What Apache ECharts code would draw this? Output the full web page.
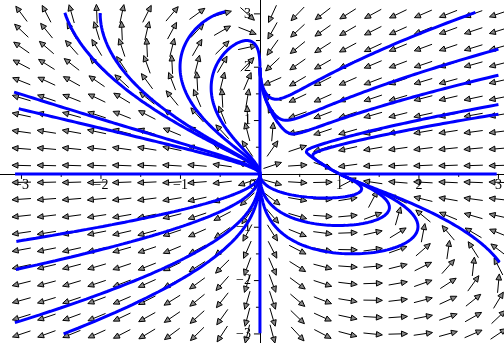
<!DOCTYPE html>
<html>
<head>
<meta charset="utf-8">
<script src="https://cdn.jsdelivr.net/npm/echarts@6/dist/echarts.min.js"></script>
<style>
  html, body { margin: 0; padding: 0; background: #fff; }
  #chart { width: 504px; height: 343px; }
</style>
</head>
<body>
<div id="chart"></div>
<script>
// Competing species system:
//   x' = x (ax - bx*x - cx*y)
//   y' = y (ay - by*x - cy*y)
const rateX = [1, 1, 1];          // ax, bx, cx
const rateY = [0.5, 0.75, 0.25];  // ay, by, cy

// window of the direction field
const fieldRange = [-3, 3];
const fieldCount = 20;

// box in which the solution curves are traced
const curveBoxX = [-3.1, 3.02];
const curveBoxY = [-3.0, 3.04];

// visible axis extents
const xExtent = [-3.27, 3.07];
const yExtent = [-3.17, 3.26];

// axis ticks and labels
const tickValues = [-3, -2.5, -2, -1.5, -1, -0.5, 0.5, 1, 1.5, 2, 2.5, 3];
const xLabelValues = [-3, -2, -1, 1, 2, 3];
const yLabelValues = [-3, -2, -1, 1, 2, 3];

// initial points of the drawn solution curves
const seedX = [-2.45, -2.01, -3.0, -3.0, -0.53, -0.61,
               2.66, 3.0, 3.0, 3.0, 3.0,
               -3.0, -3.0, -3.0, -2.47,
               0.88, 1.13, 1.39, 3.0,
               -1.0, 0.0, 0.0, 2.0];
const seedY = [3.0, 3.0, 1.49, 1.21, 3.0, 1.72,
               3.0, 2.34, 1.85, 1.30, 1.12,
               -1.25, -1.77, -2.75, -3.0,
               -0.45, -0.96, -1.48, -1.63,
               0.0, 1.0, -1.0, 0.0];

function field(x, y) {
  return [
    x * (rateX[0] - rateX[1] * x - rateX[2] * y),
    y * (rateY[0] - rateY[1] * x - rateY[2] * y)
  ];
}

function inside(p) {
  return p[0] >= curveBoxX[0] && p[0] <= curveBoxX[1] &&
         p[1] >= curveBoxY[0] && p[1] <= curveBoxY[1];
}

// fixed-step RK4 from (x0, y0), forwards (dir = 1) or backwards (dir = -1)
function solve(x0, y0, dir) {
  const h = 0.004 * dir;
  const pts = [];
  let p = [x0, y0];
  for (let i = 0; i < 12000; i++) {
    const k1 = field(p[0], p[1]);
    const k2 = field(p[0] + h * k1[0] / 2, p[1] + h * k1[1] / 2);
    const k3 = field(p[0] + h * k2[0] / 2, p[1] + h * k2[1] / 2);
    const k4 = field(p[0] + h * k3[0], p[1] + h * k3[1]);
    const q = [p[0] + h * (k1[0] + 2 * k2[0] + 2 * k3[0] + k4[0]) / 6,
               p[1] + h * (k1[1] + 2 * k2[1] + 2 * k3[1] + k4[1]) / 6];
    if (!inside(q)) break;
    const moved = Math.hypot(q[0] - p[0], q[1] - p[1]);
    p = q;
    if (i % 2 === 0) pts.push(p);
    if (moved < 1e-7) break;
  }
  return pts;
}

function curve(x0, y0) {
  const back = solve(x0, y0, -1).reverse();
  const fwd = solve(x0, y0, 1);
  return back.concat([[x0, y0]], fwd);
}

const curveSeries = seedX.map((sx, i) => ({
  type: 'line',
  data: curve(sx, seedY[i]),
  showSymbol: false,
  symbol: 'none',
  clip: true,
  silent: true,
  z: 4,
  lineStyle: { color: '#0000ff', width: 3 }
}));

// grid of direction arrows
const arrowData = [];
for (let i = 0; i < fieldCount; i++) {
  for (let j = 0; j < fieldCount; j++) {
    const gx = fieldRange[0] + (fieldRange[1] - fieldRange[0]) * i / (fieldCount - 1);
    const gy = fieldRange[0] + (fieldRange[1] - fieldRange[0]) * j / (fieldCount - 1);
    arrowData.push([gx, gy]);
  }
}

function renderArrow(params, api) {
  const gx = api.value(0), gy = api.value(1);
  const c = api.coord([gx, gy]);
  const v = field(gx, gy);
  const unit = api.size([1, 1]);
  let dx = v[0] * unit[0], dy = -v[1] * unit[1];
  const len = Math.hypot(dx, dy);
  if (len < 1e-12) return null;
  dx /= len; dy /= len;
  const L = 19, headL = 6, headW = 2.8;
  const tail = [c[0] - dx * L / 2, c[1] - dy * L / 2];
  const tip = [c[0] + dx * L / 2, c[1] + dy * L / 2];
  const base = [tip[0] - dx * headL, tip[1] - dy * headL];
  const nx = -dy, ny = dx;
  return {
    type: 'group',
    children: [
      { type: 'polyline', shape: { points: [tail, base] },
        style: { stroke: '#000', lineWidth: 1, fill: null } },
      { type: 'polygon',
        shape: { points: [tip, [base[0] + nx * headW, base[1] + ny * headW],
                               [base[0] - nx * headW, base[1] - ny * headW]] },
        style: { stroke: '#000', lineWidth: 1, fill: '#888' } }
    ]
  };
}

const fontFamily = '"Liberation Serif", "Times New Roman", serif';
function fmt(v) {
  return v < 0 ? '\u2212' + Math.abs(v) : String(v);
}

// tick marks and labels drawn on the axes through the origin
function renderXTick(params, api) {
  const v = api.value(0);
  const c = api.coord([v, 0]);
  const major = Number.isInteger(v);
  return { type: 'line', shape: { x1: c[0], y1: c[1], x2: c[0], y2: c[1] + (major ? 5 : 3) },
           style: { stroke: '#000', lineWidth: 1 } };
}
function renderYTick(params, api) {
  const v = api.value(0);
  const c = api.coord([0, v]);
  const major = Number.isInteger(v);
  return { type: 'line', shape: { x1: c[0], y1: c[1], x2: c[0] - (major ? 6 : 4), y2: c[1] },
           style: { stroke: '#000', lineWidth: 1 } };
}
function renderXLabel(params, api) {
  const v = api.value(0);
  const c = api.coord([v, 0]);
  return { type: 'text', x: c[0], y: c[1] + 4,
           style: { text: fmt(v), fill: '#000', font: '14px ' + fontFamily,
                    align: 'center', verticalAlign: 'top' } };
}
function renderYLabel(params, api) {
  const v = api.value(0);
  const c = api.coord([0, v]);
  return { type: 'text', x: c[0] - 9, y: c[1],
           style: { text: fmt(v), fill: '#000', font: '14px ' + fontFamily,
                    align: 'right', verticalAlign: 'middle' } };
}
function renderOrigin(params, api) {
  const c = api.coord([0, 0]);
  return { type: 'text', x: c[0] - 4, y: c[1] + 4,
           style: { text: '0', fill: '#000', font: '14px ' + fontFamily,
                    align: 'right', verticalAlign: 'top' } };
}

function axisSeries(data, fn, z) {
  return { type: 'custom', data: data.map(v => [v]), renderItem: fn,
           silent: true, clip: false, z: z,
           encode: { x: 0 } };
}

const chart = echarts.init(document.getElementById('chart'), null, { renderer: 'canvas' });
chart.setOption({
  animation: false,
  backgroundColor: '#fff',
  grid: { left: 0, right: 0, top: 0, bottom: 0, containLabel: false, outerBoundsMode: 'none' },
  xAxis: {
    type: 'value', min: xExtent[0], max: xExtent[1],
    axisLine: { onZero: true, lineStyle: { color: '#000', width: 1 } },
    axisTick: { show: false },
    axisLabel: { show: false },
    splitLine: { show: false }
  },
  yAxis: {
    type: 'value', min: yExtent[0], max: yExtent[1],
    axisLine: { onZero: true, lineStyle: { color: '#000', width: 1 } },
    axisTick: { show: false },
    axisLabel: { show: false },
    splitLine: { show: false }
  },
  series: [
    axisSeries(tickValues, renderXTick, 1),
    axisSeries(tickValues, renderYTick, 1),
    {
      type: 'custom',
      data: arrowData,
      renderItem: renderArrow,
      silent: true,
      clip: false,
      z: 2
    },
    axisSeries(xLabelValues, renderXLabel, 3),
    axisSeries(yLabelValues, renderYLabel, 3),
    axisSeries([0], renderOrigin, 3)
  ].concat(curveSeries)
});
</script>
</body>
</html>
